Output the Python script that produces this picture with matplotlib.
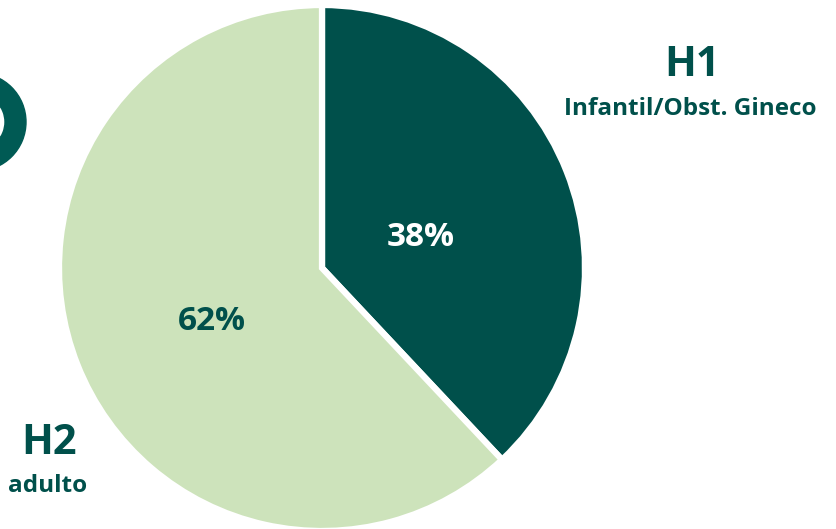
import matplotlib
matplotlib.use("Agg")
import matplotlib.pyplot as plt
from matplotlib.patches import Wedge
import numpy as np

labels = ["H1", "H2"]
sublabels = ["Infantil/Obst. Gineco", "adulto"]
values = [38, 62]
colors = ["#00504b", "#cde3bb"]
pct_colors = ["white", "#00504b"]

W, H = 836, 529
fig = plt.figure(figsize=(W / 100, H / 100), dpi=100)
ax = fig.add_axes([0, 0, 1, 1])

cx, cy, r = 322, H - 268, 263
wedges, _ = ax.pie(values, colors=colors, startangle=90, counterclock=False,
                   center=(cx, cy), radius=r, frame=True,
                   wedgeprops=dict(edgecolor="white", linewidth=4.5))
ax.set_xlim(0, W)
ax.set_ylim(0, H)
ax.set_aspect("equal")
ax.axis("off")

font = ["Open Sans", "DejaVu Sans"]
pct_pos = [(421, 238), (212, 322)]
for v, (px, py), c in zip(values, pct_pos, pct_colors):
    ax.text(px, H - py, f"{v}%", ha="center", va="center", color=c,
            fontsize=24, fontweight="bold", family=font)

title_pos = [((692, 66), (690, 109)), ((49, 443), (48, 486))]
for lab, sub, ((tx, ty), (sx, sy)) in zip(labels, sublabels, title_pos):
    ax.text(tx, H - ty, lab, ha="center", va="center", color=colors[0],
            fontsize=30, fontweight="bold", family=font)
    ax.text(sx, H - sy, sub, ha="center", va="center", color=colors[0],
            fontsize=17.5, fontweight="bold", family=font)

# decorative partial ring at left edge
ax.add_patch(Wedge((-23, H - 122), 49, 0, 360, width=21, color="#005a54"))

fig.savefig("out.png", dpi=100)
